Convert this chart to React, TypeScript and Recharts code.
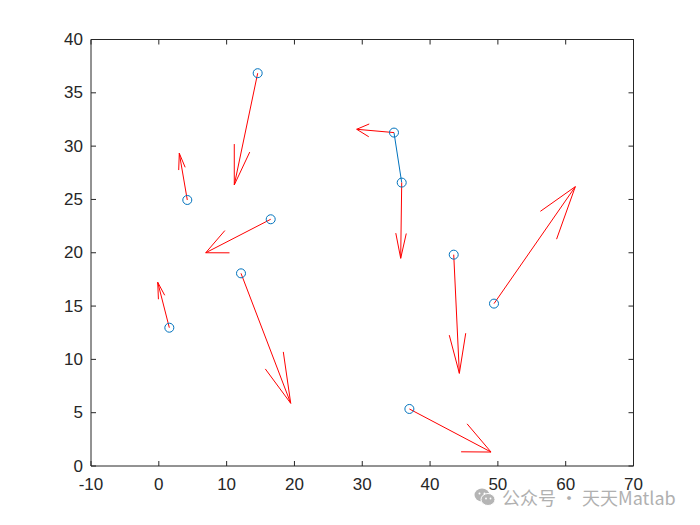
import * as React from "react";
import {
  ScatterChart,
  Scatter,
  XAxis,
  YAxis,
  ReferenceLine,
} from "recharts";

// point positions (x, y) and drawn arrow components (u, v)
const px = [1.55, 4.2, 14.58, 16.5, 12.12, 34.68, 35.82, 43.49, 49.43, 36.95];
const py = [12.97, 24.95, 36.84, 23.14, 18.07, 31.27, 26.58, 19.82, 15.23, 5.35];
const pu = [-1.71, -1.18, -3.45, -9.58, 7.33, -5.5, -0.15, 0.83, 11.99, 12.04];
const pv = [4.26, 4.38, -10.48, -3.14, -12.19, 0.31, -7.1, -11.13, 10.97, -4.04];
// indices of points joined by the blue line
const pathIdx = [5, 6];

const xTicks = [-10, 0, 10, 20, 30, 40, 50, 60, 70];
const yTicks = [0, 5, 10, 15, 20, 25, 30, 35, 40];

const AX = "#262626";
const BLUE = "#0072BD";
const RED = "#FF0000";
const FONT = "'Liberation Sans', Arial, Helvetica, sans-serif";
const FS = 17;

const points = px.map((x, i) => ({ x, y: py[i] }));

// quiver heads, same rule as MATLAB (alpha = beta = 0.33)
const ALPHA = 0.33;
const BETA = 0.33;
const arrows = px.map((x, i) => {
  const u = pu[i];
  const v = pv[i];
  const tx = x + u;
  const ty = py[i] + v;
  return {
    base: { x, y: py[i] },
    tip: { x: tx, y: ty },
    h1: { x: tx - ALPHA * (u + BETA * v), y: ty - ALPHA * (v - BETA * u) },
    h2: { x: tx - ALPHA * (u - BETA * v), y: ty - ALPHA * (v + BETA * u) },
  };
});

function BottomTick(props: any) {
  const { x, y, payload } = props;
  return (
    <g>
      <line x1={x} y1={y} x2={x} y2={y - 5} stroke={AX} />
      <text
        x={x}
        y={y + 18}
        textAnchor="middle"
        dominantBaseline="central"
        fill={AX}
        fontSize={FS}
        fontFamily={FONT}
      >
        {payload.value}
      </text>
    </g>
  );
}

function LeftTick(props: any) {
  const { x, y, payload } = props;
  return (
    <g>
      <line x1={x} y1={y} x2={x + 5} y2={y} stroke={AX} />
      <text
        x={x - 8}
        y={y}
        textAnchor="end"
        dominantBaseline="central"
        fill={AX}
        fontSize={FS}
        fontFamily={FONT}
      >
        {payload.value}
      </text>
    </g>
  );
}

function TopTick(props: any) {
  const { x, y } = props;
  return <line x1={x} y1={y} x2={x} y2={y + 5} stroke={AX} />;
}

function RightTick(props: any) {
  const { x, y } = props;
  return <line x1={x} y1={y} x2={x - 5} y2={y} stroke={AX} />;
}

function Ring(props: any) {
  const { cx, cy } = props;
  return <circle cx={cx} cy={cy} r={4.5} fill="none" stroke={BLUE} strokeWidth={1} />;
}

function WeChatIcon() {
  return (
    <svg width="22" height="20" viewBox="0 0 22 20">
      <ellipse cx="8" cy="8" rx="7.5" ry="6.5" fill="#b5b5b5" />
      <ellipse cx="14" cy="12.5" rx="7" ry="6" fill="#b5b5b5" stroke="#fff" strokeWidth="1" />
      <circle cx="5.5" cy="6.5" r="1" fill="#fff" />
      <circle cx="10.5" cy="6.5" r="1" fill="#fff" />
      <circle cx="12" cy="11.5" r="0.9" fill="#fff" />
      <circle cx="16.5" cy="11.5" r="0.9" fill="#fff" />
    </svg>
  );
}

export default function App() {
  return (
    <div style={{ position: "absolute", left: 0, top: 0, width: 700, height: 525, background: "#fff" }}>
      <ScatterChart
        width={700}
        height={525}
        margin={{ top: 38.5, right: 65.5, bottom: 0, left: 0 }}
      >
        <XAxis
          xAxisId={0}
          type="number"
          dataKey="x"
          domain={[-10, 70]}
          ticks={xTicks}
          interval={0}
          allowDataOverflow
          height={59}
          tickSize={0}
          tickMargin={0}
          axisLine={{ stroke: AX }}
          tick={<BottomTick />}
        />
        <XAxis
          xAxisId="top"
          orientation="top"
          type="number"
          dataKey="x"
          domain={[-10, 70]}
          ticks={xTicks}
          interval={0}
          allowDataOverflow
          height={1}
          tickSize={0}
          tickMargin={0}
          axisLine={{ stroke: AX }}
          tick={<TopTick />}
        />
        <YAxis
          yAxisId={0}
          type="number"
          dataKey="y"
          domain={[0, 40]}
          ticks={yTicks}
          interval={0}
          allowDataOverflow
          width={91}
          tickSize={0}
          tickMargin={0}
          axisLine={{ stroke: AX }}
          tick={<LeftTick />}
        />
        <YAxis
          yAxisId="right"
          orientation="right"
          type="number"
          dataKey="y"
          domain={[0, 40]}
          ticks={yTicks}
          interval={0}
          allowDataOverflow
          width={1}
          tickSize={0}
          tickMargin={0}
          axisLine={{ stroke: AX }}
          tick={<RightTick />}
        />
        <ReferenceLine y={40} stroke={AX} />
        <ReferenceLine x={70} stroke={AX} />
        <ReferenceLine
          segment={[points[pathIdx[0]], points[pathIdx[1]]]}
          stroke={BLUE}
          strokeWidth={1}
        />
        {arrows.map((a, i) => (
          <ReferenceLine key={`s${i}`} segment={[a.base, a.tip]} stroke={RED} strokeWidth={1} />
        ))}
        {arrows.map((a, i) => (
          <ReferenceLine key={`a${i}`} segment={[a.h1, a.tip]} stroke={RED} strokeWidth={1} />
        ))}
        {arrows.map((a, i) => (
          <ReferenceLine key={`b${i}`} segment={[a.h2, a.tip]} stroke={RED} strokeWidth={1} />
        ))}
        <Scatter data={points} shape={<Ring />} isAnimationActive={false} />
      </ScatterChart>
      <div
        style={{
          position: "absolute",
          left: 474,
          top: 484,
          display: "flex",
          alignItems: "center",
          gap: 6,
          color: "#b0b0b0",
          fontSize: 18,
          fontFamily: "'Noto Sans CJK SC', 'Noto Sans', sans-serif",
          whiteSpace: "nowrap",
        }}
      >
        <WeChatIcon />
        <span>公众号 · 天天Matlab</span>
      </div>
    </div>
  );
}
